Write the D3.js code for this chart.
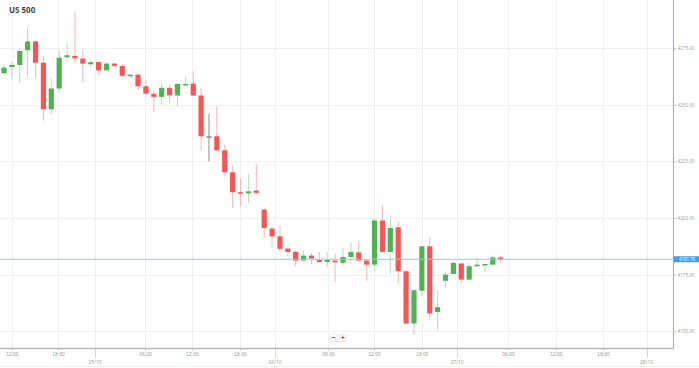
<!DOCTYPE html>
<html>
<head>
<meta charset="utf-8">
<script src="https://cdn.jsdelivr.net/npm/d3@7"></script>
<style>
  body { margin: 0; background: #fff; font-family: "Open Sans", "Noto Sans", sans-serif; }
  .grid line { stroke: #f0f0f0; stroke-width: 1; }
  .tick-label { fill: #9a9a9a; }
</style>
</head>
<body>
<div id="chart"></div>
<script>
// hourly candles, US 500
var opens = [4263.9, 4266.7, 4267.6, 4274.1, 4278.0, 4268.6, 4248.0, 4257.2, 4271.0, 4271.6,
  4270.4, 4267.9, 4268.9, 4265.2, 4268.2, 4267.2, 4262.6, 4263.3, 4258.2, 4254.9,
  4253.5, 4257.5, 4254.1, 4258.6, 4259.4, 4254.1, 4236.1, 4236.1, 4229.9, 4220.2,
  4211.4, 4210.9, 4212.1, 4203.7, 4195.3, 4191.9, 4186.5, 4185.0, 4181.2, 4183.4,
  4181.5, 4180.6, 4181.2, 4180.2, 4182.8, 4184.8, 4181.2, 4179.4, 4198.9, 4185.0,
  4195.9, 4176.5, 4153.4, 4167.9, 4187.5, 4158.5, 4172.3, 4175.3, 4179.9, 4172.8,
  4178.7, 4179.1, 4179.4, 4182.6];
var closes = [4266.4, 4267.6, 4273.8, 4278.0, 4268.6, 4248.0, 4257.2, 4270.8, 4271.9, 4270.5,
  4268.2, 4268.8, 4265.2, 4268.2, 4267.2, 4262.8, 4263.3, 4258.2, 4254.9, 4253.5,
  4257.5, 4254.2, 4259.2, 4259.2, 4254.1, 4236.1, 4236.1, 4229.9, 4220.2, 4211.4,
  4211.1, 4211.8, 4211.1, 4195.6, 4191.9, 4186.4, 4185.0, 4181.2, 4183.4, 4182.1,
  4180.6, 4181.5, 4180.4, 4182.8, 4185.0, 4181.2, 4179.4, 4198.9, 4185.0, 4195.6,
  4176.5, 4153.4, 4168.1, 4187.5, 4157.8, 4160.6, 4175.0, 4180.2, 4172.8, 4178.7,
  4179.4, 4179.7, 4182.6, 4181.78];
var highs = [4268.2, 4268.9, 4275.0, 4284.1, 4278.3, 4271.6, 4261.7, 4273.8, 4277.5, 4291.2,
  4274.1, 4270.1, 4269.2, 4268.6, 4268.6, 4267.9, 4263.5, 4264.1, 4261.1, 4256.0,
  4259.7, 4258.9, 4259.4, 4262.3, 4264.8, 4257.5, 4246.1, 4249.3, 4232.4, 4223.1,
  4217.7, 4219.2, 4224.0, 4204.7, 4196.3, 4196.8, 4187.5, 4186.0, 4185.6, 4184.6,
  4185.0, 4185.0, 4184.1, 4186.8, 4189.4, 4190.0, 4181.3, 4199.9, 4205.5, 4201.2,
  4198.3, 4176.8, 4168.4, 4187.7, 4191.5, 4168.1, 4176.5, 4180.9, 4180.2, 4180.2,
  4182.6, 4179.8, 4183.4, 4183.4];
var lows = [4263.5, 4261.3, 4259.8, 4262.3, 4261.7, 4242.9, 4245.8, 4255.8, 4268.3, 4268.6,
  4259.8, 4266.4, 4263.2, 4264.8, 4266.4, 4262.0, 4261.9, 4256.4, 4254.6, 4246.7,
  4250.1, 4251.1, 4249.3, 4258.2, 4253.9, 4229.9, 4225.0, 4229.6, 4218.2, 4204.5,
  4205.2, 4206.7, 4210.3, 4191.2, 4187.1, 4185.0, 4183.1, 4178.7, 4180.9, 4179.7,
  4180.2, 4178.2, 4171.8, 4179.1, 4179.4, 4180.9, 4172.3, 4176.5, 4184.8, 4175.3,
  4170.9, 4153.2, 4148.5, 4165.4, 4154.7, 4150.3, 4169.4, 4175.0, 4170.9, 4172.3,
  4178.2, 4176.2, 4179.0, 4180.2];

// x ticks, in candle index units (market breaks make them uneven)
var timeTickIdx = [1, 6.85, 17.88, 23.85, 29.93, 41.1, 46.93, 53.0, 63.93, 70.0, 75.96];
var timeTickLabels = ["12:00", "18:00", "06:00", "12:00", "18:00", "06:00", "12:00", "18:00", "06:00", "12:00", "18:00"];
var dateTickIdx = [11.54, 34.37, 57.46, 81.5];
var dateTickLabels = ["25/10", "26/10", "27/10", "28/10"];

var priceTicks = [4150, 4175, 4200, 4225, 4250, 4275];
var lastPrice = 4181.78;
var title = "US 500";

var width = 699, height = 368,
    plotRight = 673, plotBottom = 348.5;

var data = opens.map(function(o, i) {
  return { i: i, o: o, h: highs[i], l: lows[i], c: closes[i] };
});

var svg = d3.select("#chart")
  .append("svg")
  .attr("width", width)
  .attr("height", height);

// scale functions
var xScale = d3.scaleLinear()
  .domain([0, data.length - 1])
  .range([4, 500.7]);
var yScale = d3.scaleLinear()
  .domain([4150, 4275])
  .range([331.2, 48.2]);

// grid
var grid = svg.append("g").attr("class", "grid");
grid.selectAll(".hg")
  .data(priceTicks)
  .enter().append("line")
  .attr("x1", 0).attr("x2", plotRight)
  .attr("y1", function(d) { return Math.round(yScale(d)) + 0.5; })
  .attr("y2", function(d) { return Math.round(yScale(d)) + 0.5; });
grid.selectAll(".vg")
  .data(timeTickIdx.concat(dateTickIdx))
  .enter().append("line")
  .attr("y1", 0).attr("y2", plotBottom)
  .attr("x1", function(d) { return Math.round(xScale(d)) + 0.5; })
  .attr("x2", function(d) { return Math.round(xScale(d)) + 0.5; });

// title
svg.append("text")
  .attr("x", 9)
  .attr("y", 13)
  .attr("font-size", "8px")
  .attr("font-weight", "bold")
  .attr("fill", "#454545")
  .text(title);

// candles
function candleColor(d) {
  if (d.c > d.o) return "#52b152";
  if (d.c < d.o) return "#f75656";
  return "#8c8c8c";
}
function wickColor(d) {
  if (d.c > d.o) return "#b5dfb5";
  if (d.c < d.o) return "#f9b4b4";
  return "#8c8c8c";
}

var candles = svg.append("g").attr("class", "candles");
candles.selectAll(".wick")
  .data(data)
  .enter().append("line")
  .attr("class", "wick")
  .attr("x1", function(d) { return xScale(d.i); })
  .attr("x2", function(d) { return xScale(d.i); })
  .attr("y1", function(d) { return yScale(d.h); })
  .attr("y2", function(d) { return yScale(d.l); })
  .attr("stroke", wickColor)
  .attr("stroke-width", 1);
candles.selectAll(".body")
  .data(data)
  .enter().append("rect")
  .attr("class", "body")
  .attr("x", function(d) { return xScale(d.i) - 2.6; })
  .attr("width", 5.2)
  .attr("y", function(d) { return yScale(Math.max(d.o, d.c)); })
  .attr("height", function(d) { return Math.max(1.5, Math.abs(yScale(d.o) - yScale(d.c))); })
  .attr("fill", candleColor);

// last price line
svg.append("line")
  .attr("x1", 0).attr("x2", plotRight)
  .attr("y1", yScale(lastPrice)).attr("y2", yScale(lastPrice))
  .attr("stroke", "#8cc8f0")
  .attr("stroke-width", 1);

// axis lines
svg.append("line")
  .attr("x1", plotRight + 0.5).attr("x2", plotRight + 0.5)
  .attr("y1", 0).attr("y2", plotBottom)
  .attr("stroke", "#a8a8a8");
svg.append("line")
  .attr("x1", 0).attr("x2", plotRight + 1)
  .attr("y1", plotBottom).attr("y2", plotBottom)
  .attr("stroke", "#b8b8b8")
  .attr("stroke-width", 1.5);

// right price axis
var yAxis = d3.axisRight(yScale)
  .tickValues(priceTicks)
  .tickSize(3)
  .tickPadding(1.5)
  .tickFormat(d3.format(".2f"));
var yg = svg.append("g")
  .attr("transform", "translate(" + plotRight + ",0)")
  .call(yAxis);
yg.select(".domain").remove();
yg.selectAll("line").attr("stroke", "#bbb");
yg.selectAll("text")
  .attr("class", "tick-label")
  .attr("font-size", "4.6px")
  .attr("font-family", "Open Sans, sans-serif");

// last price tag
var tag = svg.append("g")
  .attr("transform", "translate(" + (plotRight + 1) + "," + yScale(lastPrice) + ")");
tag.append("rect")
  .attr("x", 0).attr("y", -3)
  .attr("width", width - plotRight - 1).attr("height", 6)
  .attr("fill", "#3d9fe8");
tag.append("text")
  .attr("x", 13).attr("y", 1.6)
  .attr("text-anchor", "middle")
  .attr("font-size", "4.4px")
  .attr("fill", "#fff")
  .text(lastPrice.toFixed(2));

// bottom time axis
var xAxis = d3.axisBottom(xScale)
  .tickValues(timeTickIdx)
  .tickSize(2)
  .tickPadding(2)
  .tickFormat(function(d, i) { return timeTickLabels[i]; });
var xg = svg.append("g")
  .attr("transform", "translate(0," + plotBottom + ")")
  .call(xAxis);
xg.select(".domain").remove();
xg.selectAll("line").attr("stroke", "#c8c8c8");
xg.selectAll("text")
  .attr("class", "tick-label")
  .attr("font-size", "5px");

// date ticks with dotted stems
var dg = svg.append("g").attr("class", "dates");
dg.selectAll("line")
  .data(dateTickIdx)
  .enter().append("line")
  .attr("x1", function(d) { return Math.round(xScale(d)) + 0.5; })
  .attr("x2", function(d) { return Math.round(xScale(d)) + 0.5; })
  .attr("y1", plotBottom).attr("y2", plotBottom + 9)
  .attr("stroke", "#b0b0b0")
  .attr("stroke-dasharray", "1,1");
dg.selectAll("text")
  .data(dateTickIdx)
  .enter().append("text")
  .attr("class", "tick-label")
  .attr("x", function(d) { return xScale(d); })
  .attr("y", plotBottom + 15.5)
  .attr("text-anchor", "middle")
  .attr("font-size", "5px")
  .text(function(d, i) { return dateTickLabels[i]; });

// bottom strip
svg.append("line")
  .attr("x1", 0).attr("x2", width)
  .attr("y1", 366.5).attr("y2", 366.5)
  .attr("stroke", "#f0f0f0");

// zoom buttons
var zoomBtns = svg.append("g").attr("transform", "translate(338,338)");
["\u2212", "+"].forEach(function(s, k) {
  zoomBtns.append("rect")
    .attr("x", -8 + k * 9).attr("y", -4)
    .attr("width", 7.5).attr("height", 7.5)
    .attr("fill", "#fff")
    .attr("stroke", "#ddd")
    .attr("stroke-width", 0.6);
  zoomBtns.append("text")
    .attr("x", -4.25 + k * 9).attr("y", 2.3)
    .attr("text-anchor", "middle")
    .attr("font-size", "7px")
    .attr("font-weight", "bold")
    .attr("fill", "#555")
    .text(s);
});
</script>
</body>
</html>
